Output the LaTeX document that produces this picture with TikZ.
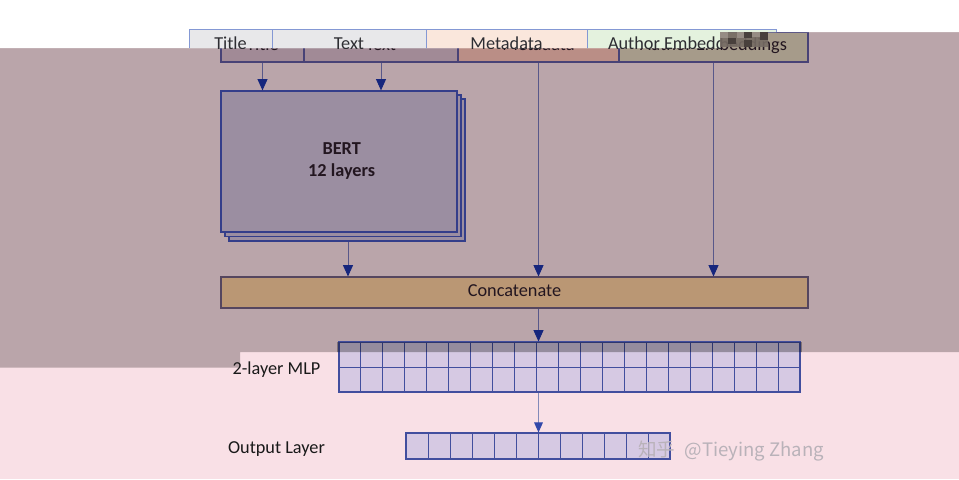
\documentclass[tikz,border=0pt]{standalone}
\usepackage{fontspec}
\setmainfont{Carlito}
\newfontfamily\cjkfont{Noto Sans CJK SC}
\usetikzlibrary{arrows.meta}
\definecolor{pinkbg}{RGB}{249,224,230}
\definecolor{mauvebg}{RGB}{186,165,170}
\definecolor{ovline}{RGB}{72,66,118}
\definecolor{ovtext}{RGB}{35,22,32}
\definecolor{ovgray}{RGB}{161,138,150}
\definecolor{ovmeta}{RGB}{186,142,134}
\definecolor{ovauth}{RGB}{166,155,138}
\definecolor{bertfill}{RGB}{155,142,161}
\definecolor{bertline}{RGB}{52,62,138}
\definecolor{concfill}{RGB}{186,151,116}
\definecolor{concline}{RGB}{85,70,95}
\definecolor{arrline}{RGB}{88,88,138}
\definecolor{navytip}{RGB}{22,38,125}
\definecolor{lavcell}{RGB}{214,201,227}
\definecolor{cellline}{RGB}{66,78,158}
\definecolor{lightline}{RGB}{130,138,185}
\definecolor{bluetip}{RGB}{50,72,170}
\definecolor{bline}{RGB}{132,152,212}
\definecolor{bgray}{RGB}{232,232,234}
\definecolor{bmeta}{RGB}{250,231,220}
\definecolor{bauth}{RGB}{228,242,222}
\definecolor{btext}{RGB}{45,45,50}
\definecolor{wmark}{RGB}{185,178,185}
\definecolor{patchA}{RGB}{118,108,100}
\definecolor{patchB}{RGB}{72,64,60}
\definecolor{patchC}{RGB}{150,140,132}
\newcommand\myfs{\fontsize{13.7pt}{16.5pt}\selectfont}
\begin{document}
\begin{tikzpicture}[x=0.75pt,y=-0.75pt,
  box/.style={draw, inner sep=0pt, font=\myfs, text height=0.65em, text depth=0.2em},
  ovbox/.style={box, draw=ovline, line width=0.8pt, text=ovtext, minimum height=22.5pt},
  basebox/.style={box, draw=bline, line width=0.7pt, text=btext, minimum height=25.5pt},
  conn/.style={draw=arrline, line width=0.7pt, -{Triangle[width=7.5pt,length=8.5pt,color=navytip]}},
  connlight/.style={draw=lightline, line width=0.7pt, -{Triangle[width=6.5pt,length=7.5pt,color=bluetip]}},
  bertback/.style={draw=bertline, fill=bertfill, line width=0.9pt},
  gridbox/.style={draw=cellline, fill=lavcell, line width=0.8pt, inner sep=0pt},
  gridln/.style={draw=cellline, line width=0.7pt},
  lab/.style={inner sep=0pt, font=\myfs, text=black!90, text height=0.65em, text depth=0.2em}
]
\useasboundingbox (0,0) rectangle (959,479);
% backgrounds
\fill[pinkbg] (0,0) rectangle (959,479);
\fill[mauvebg] (0,48) -- (720,48) -- (720,32) -- (959,32) -- (959,352) -- (240,352) -- (240,367.7) -- (0,367.7) -- cycle;

% top row (overlay layer)
\node[ovbox, fill=ovgray, minimum width=62.25pt] (title) at (262.5,47) {Title};
\node[ovbox, fill=ovgray, minimum width=115.5pt] (text) at (381,47) {Text};
\node[ovbox, fill=ovmeta, minimum width=120.75pt] (meta) at (538.5,47) {Metadata};
\node[ovbox, fill=ovauth, minimum width=141.75pt] (auth) at (713.5,47) {Author Embeddings};

% concatenate
\node[box, draw=concline, fill=concfill, line width=0.8pt, text=ovtext, text depth=0pt, minimum width=440.25pt, minimum height=23.25pt] (conc) at (514.5,292.5) {Concatenate};

% BERT stack
\draw[bertback] (229,99) rectangle (465,241);
\draw[bertback] (225,95) rectangle (461,236.5);
\node[draw=bertline, fill=bertfill, line width=0.9pt, minimum width=177pt, minimum height=105.75pt, inner sep=0pt, align=center, font=\myfs\bfseries, text=ovtext] (bert) at (339,161.5) {\raisebox{1.5pt}{\hspace{4pt}BERT}\\\raisebox{1.5pt}{\hspace{4pt}12 layers}};

% connectors
\draw[conn] (title.south) -- (title.south |- bert.north);
\draw[conn] (text.south) -- (text.south |- bert.north);
\draw[conn] ([xshift=6.75pt,yshift=-7pt]bert.south) -- ([xshift=6.75pt]bert.south |- conc.north);
\draw[conn] (meta.south) -- (meta.south |- conc.north);
\draw[conn] (auth.south) -- (auth.south |- conc.north);

% MLP grid
\node[gridbox, minimum width=345.75pt, minimum height=37.5pt] (mlp) at (569.5,367) {};
\foreach \i in {1,...,20} \draw[gridln] ({339+\i*461/21},342) -- ({339+\i*461/21},392);
\draw[gridln] (mlp.west) -- (mlp.east);
\draw[conn] (meta.south |- conc.south) -- (meta.south |- mlp.north);

% output grid
\node[gridbox, minimum width=198pt, minimum height=19.5pt] (out) at (538,446) {};
\foreach \i in {1,...,11} \draw[gridln] ({406+\i*22},433) -- ({406+\i*22},459);
\draw[connlight] (meta.south |- mlp.south) -- (meta.south |- out.north);

% labels
\node[lab] (mlplab) at (276.5,371.5) {2-layer MLP};
\node[lab] (outlab) at (276.5,450) {Output Layer};

% darken the part of the grid that lies in the dark band
\begin{scope}
  \clip (0,48) -- (720,48) -- (720,32) -- (959,32) -- (959,352) -- (240,352) -- (240,367.7) -- (0,367.7) -- cycle;
  \fill[black, opacity=0.3] (337,341.5) rectangle (802,394);
\end{scope}

% white top strip with the shifted base layer
\fill[white] (0,0) -- (959,0) -- (959,32) -- (720,32) -- (720,48) -- (0,48) -- cycle;
\begin{scope}
  \clip (0,0) -- (959,0) -- (959,32) -- (720,32) -- (720,48) -- (0,48) -- cycle;
  \node[basebox, fill=bgray, minimum width=62.25pt] (btitle) at (230.5,46) {Title};
  \node[basebox, fill=bgray, minimum width=115.5pt] (btext) at (349,46) {Text};
  \node[basebox, fill=bmeta, minimum width=120.75pt] (bmeta) at (506.5,46) {Metadata};
  \node[basebox, fill=bauth, minimum width=141.75pt] (bauth) at (681.5,46) {Author Embeddings};
\end{scope}

% glitch patch
\fill[patchA, opacity=0.9] (720,32) rectangle (768,47);
\fill[patchC] (720,32) rectangle (728,38);
\fill[patchB] (728,38) rectangle (736,44);
\fill[patchC] (737,32) rectangle (744,38);
\fill[patchB] (744,32) rectangle (752,38);
\fill[patchC] (752,32) rectangle (760,37);
\fill[patchB] (760,32) rectangle (768,40);
\fill[patchB] (744,40) rectangle (752,47);

% watermark
\node[inner sep=0pt, anchor=west, font=\cjkfont\fontsize{13.9pt}{16pt}\selectfont, text=wmark] (wm) at (638,451) {知乎\hspace{7pt}@Tieying Zhang};
\end{tikzpicture}
\end{document}
